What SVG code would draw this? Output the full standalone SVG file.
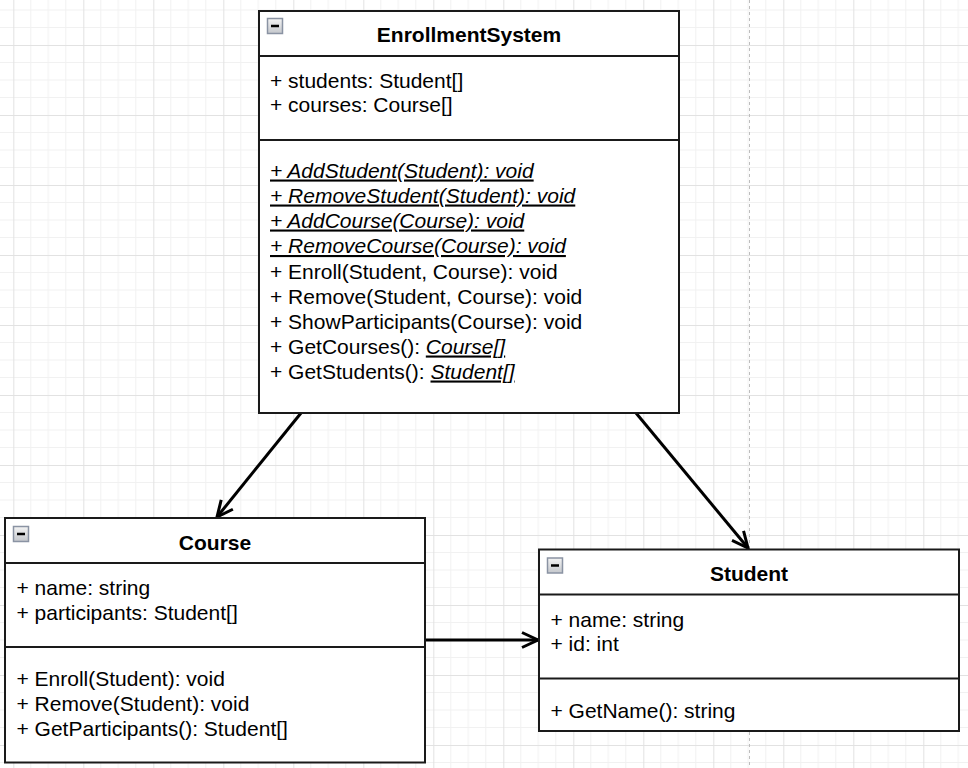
<svg xmlns="http://www.w3.org/2000/svg" width="968" height="768" viewBox="0 0 968 768">
  <style>
    .box { fill: #ffffff; stroke: #1a1a1a; stroke-width: 2; }
    .sep { stroke: #1a1a1a; stroke-width: 2; }
    .title { font-family: "Liberation Sans", Arial, sans-serif; font-size: 21px; font-weight: bold; fill: #000; text-anchor: middle; }
    .member { font-family: "Liberation Sans", Arial, sans-serif; font-size: 21px; fill: #000; }
    .static { font-style: italic; text-decoration: underline; }
    .edge { stroke: #000; stroke-width: 3; fill: none; }
    .icon { fill: url(#iconFill); stroke: #8a93a3; stroke-width: 1.5; }
    .minus { stroke: #000; stroke-width: 2.5; }
  </style>
  <defs>
    <pattern id="grid" patternUnits="userSpaceOnUse" x="13.3" y="45" width="70" height="70">
      <path d="M17.5 0V70M35 0V70M52.5 0V70M0 17.5H70M0 35H70M0 52.5H70" stroke="#f1f1f1" stroke-width="1" fill="none"/>
      <path d="M0.5 0V70M0 0.5H70" stroke="#e2e2e2" stroke-width="1" fill="none"/>
    </pattern>
    <linearGradient id="iconFill" x1="0" y1="0" x2="0" y2="1">
      <stop offset="0" stop-color="#f4f4f4"/>
      <stop offset="1" stop-color="#c4c7cc"/>
    </linearGradient>
    <marker id="open" markerUnits="userSpaceOnUse" markerWidth="22" markerHeight="20" refX="18" refY="9" orient="auto">
      <path d="M2 1.5L18 9L2 16.5" stroke="#000" stroke-width="3" fill="none" stroke-linejoin="miter"/>
    </marker>
  </defs>

  <!-- canvas -->
  <rect width="968" height="768" fill="#ffffff"/>
  <rect width="968" height="768" fill="url(#grid)"/>
  <line x1="749.5" y1="0" x2="749.5" y2="768" stroke="#bdbdbd" stroke-width="1" stroke-dasharray="3 3"/>

  <!-- associations -->
  <g id="connectors">
    <line class="edge" x1="301" y1="413" x2="217" y2="517" marker-end="url(#open)"/>
    <line class="edge" x1="636" y1="413" x2="748" y2="548" marker-end="url(#open)"/>
    <line class="edge" x1="426" y1="640" x2="538" y2="640" marker-end="url(#open)"/>
  </g>

  <!-- EnrollmentSystem class -->
  <g id="EnrollmentSystem">
    <rect class="box" x="259" y="11" width="420" height="402"/>
    <line class="sep" x1="259" y1="56" x2="679" y2="56"/>
    <line class="sep" x1="259" y1="140" x2="679" y2="140"/>
    <rect class="icon" x="267.5" y="18.5" width="15" height="15"/>
    <line class="minus" x1="271" y1="26" x2="279" y2="26"/>
    <text class="title" x="469" y="41.5">EnrollmentSystem</text>
    <text class="member" x="270" y="87.5">+ students: Student[]</text>
    <text class="member" x="270" y="111.5">+ courses: Course[]</text>
    <text class="member static" x="270" y="177.5">+ AddStudent(Student): void</text>
    <text class="member static" x="270" y="202.5">+ RemoveStudent(Student): void</text>
    <text class="member static" x="270" y="227.5">+ AddCourse(Course): void</text>
    <text class="member static" x="270" y="253">+ RemoveCourse(Course): void</text>
    <text class="member" x="270" y="278.5">+ Enroll(Student, Course): void</text>
    <text class="member" x="270" y="303.5">+ Remove(Student, Course): void</text>
    <text class="member" x="270" y="328.5">+ ShowParticipants(Course): void</text>
    <text class="member" x="270" y="353.5">+ GetCourses(): <tspan class="static">Course[]</tspan></text>
    <text class="member" x="270" y="378.5">+ GetStudents(): <tspan class="static">Student[]</tspan></text>
  </g>

  <!-- Course class -->
  <g id="Course">
    <rect class="box" x="5" y="518" width="420" height="244.5"/>
    <line class="sep" x1="5" y1="563" x2="425" y2="563"/>
    <line class="sep" x1="5" y1="647" x2="425" y2="647"/>
    <rect class="icon" x="13.5" y="526.5" width="15" height="15"/>
    <line class="minus" x1="17" y1="534" x2="25" y2="534"/>
    <text class="title" x="215" y="549.5">Course</text>
    <text class="member" x="16.5" y="594.5">+ name: string</text>
    <text class="member" x="16.5" y="619.5">+ participants: Student[]</text>
    <text class="member" x="16.5" y="685.5">+ Enroll(Student): void</text>
    <text class="member" x="16.5" y="710.5">+ Remove(Student): void</text>
    <text class="member" x="16.5" y="735.5">+ GetParticipants(): Student[]</text>
  </g>

  <!-- Student class -->
  <g id="Student">
    <rect class="box" x="539" y="549.5" width="420" height="181.5"/>
    <line class="sep" x1="539" y1="594.5" x2="959" y2="594.5"/>
    <line class="sep" x1="539" y1="678.5" x2="959" y2="678.5"/>
    <rect class="icon" x="547.5" y="558" width="15" height="15"/>
    <line class="minus" x1="551" y1="565.5" x2="559" y2="565.5"/>
    <text class="title" x="749" y="580.5">Student</text>
    <text class="member" x="550.5" y="626.5">+ name: string</text>
    <text class="member" x="550.5" y="650.5">+ id: int</text>
    <text class="member" x="550.5" y="717.5">+ GetName(): string</text>
  </g>
</svg>
